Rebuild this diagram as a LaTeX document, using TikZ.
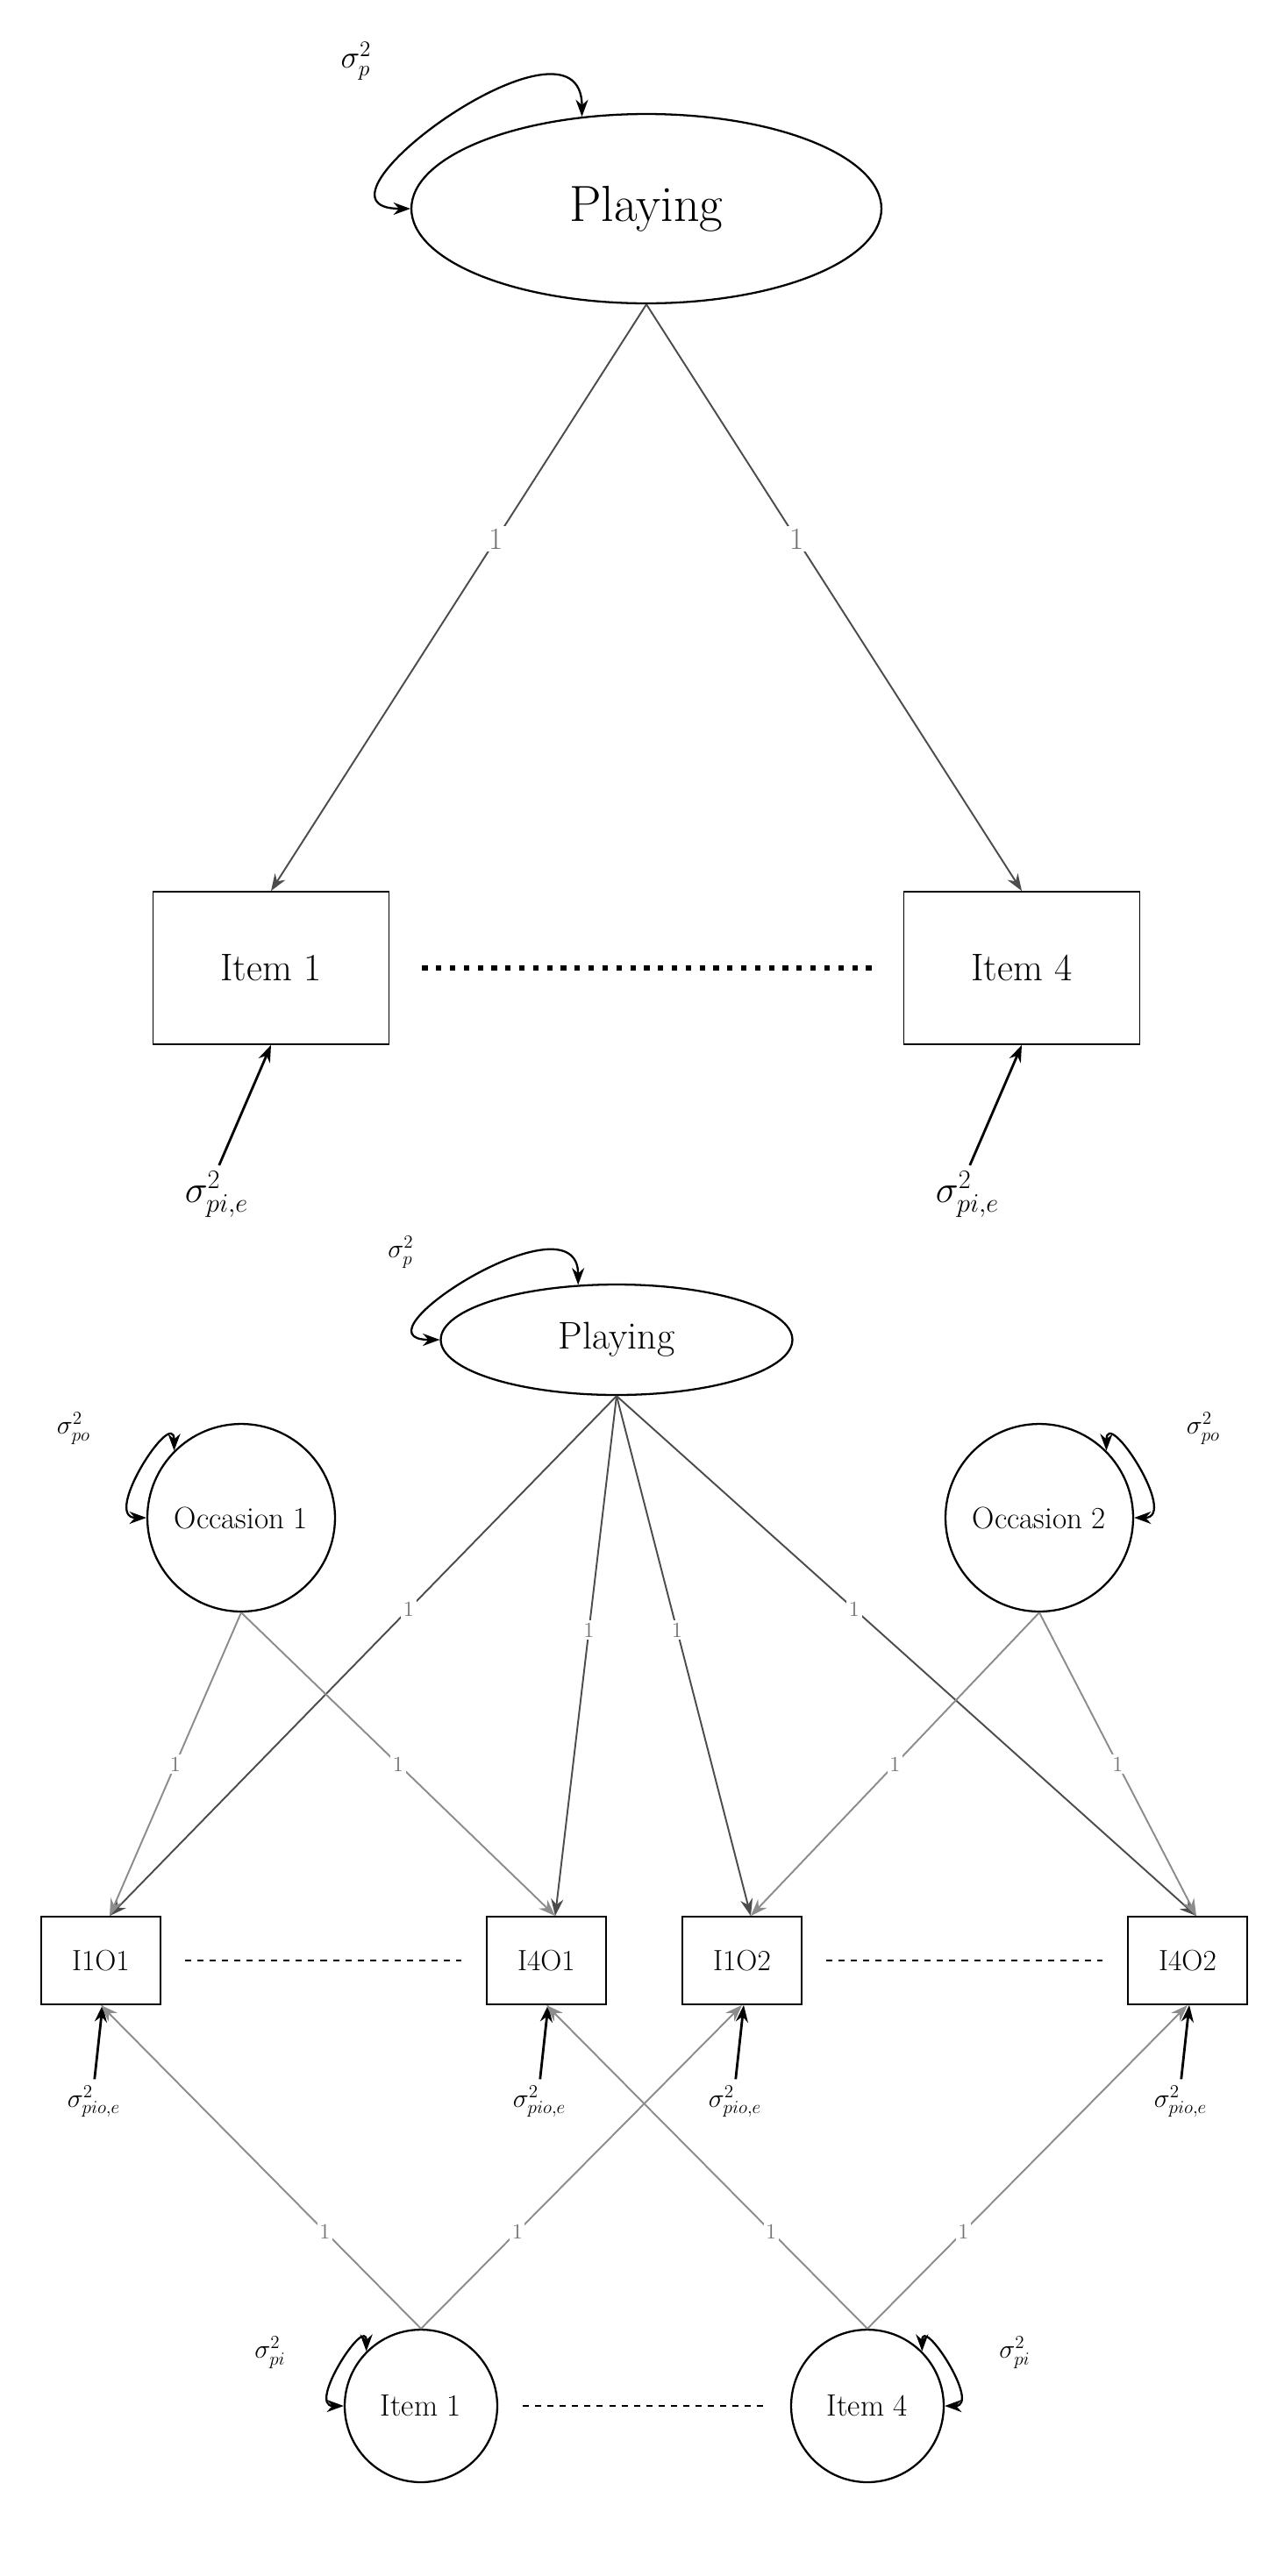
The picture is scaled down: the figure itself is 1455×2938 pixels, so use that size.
\documentclass[tikz,border=0pt]{standalone}
\usepackage{amsmath}
\usetikzlibrary{arrows.meta,shapes.geometric,calc}

\newcommand{\fs}[1]{\fontsize{#1}{#1}\selectfont}

\begin{document}
\begin{tikzpicture}[
        x=0.02cm, y=-0.02cm,
        >={Stealth[length=11pt,width=8pt]},
        latent/.style={ellipse,draw,line width=1.3pt,inner sep=0pt},
        factor/.style={circle,draw,line width=1.3pt,inner sep=0pt,font=\fs{20}},
        obs/.style={rectangle,draw,line width=1pt,inner sep=0pt},
        load/.style={->,line width=1.1pt,draw=black!70},
        lload/.style={->,line width=1.1pt,draw=black!45},
        err/.style={->,line width=1.6pt,shorten <=4pt},
        vloop/.style={<->,line width=1.3pt,looseness=1.6},
        one/.style={fill=white,inner sep=1.5pt,text=black!55,font=\fs{#1}},
        one/.default=14,
        lbl/.style={inner sep=0pt,font=\fs{#1}},
    ]
\useasboundingbox (0,0) rectangle (1455,2938);

% upper model: one facet
\node[latent,minimum width=10.72cm,minimum height=4.32cm,font=\fs{33}] (play) at (737,238) {Playing};
\node[obs,minimum width=5.38cm,minimum height=3.48cm,font=\fs{25}] (it1) at (309,1104) {Item 1};
\node[obs,minimum width=5.38cm,minimum height=3.48cm,font=\fs{25}] (it4) at (1165,1104) {Item 4};
\node[lbl=22] (sp) at (406,70) {$\sigma^2_p$};
\node[lbl=24] (e1) at (247,1362) {$\sigma^2_{pi,e}$};
\node[lbl=24] (e4) at (1103,1362) {$\sigma^2_{pi,e}$};

\draw[load] (play.south) -- node[one=20,pos=0.4] {1} (it1.north);
\draw[load] (play.south) -- node[one=20,pos=0.4] {1} (it4.north);
\draw[line width=3.5pt,dash pattern=on 3.5pt off 5.5pt] ($(it1.east)+(37,0)$) -- ($(it4.west)+(-35,0)$);
\draw[err] (e1.north) -- (it1.south);
\draw[err] (e4.north) -- (it4.south);
\draw[vloop] (play.125) to[out=90,in=180] (play.180);

% lower model: persons x items x occasions
\node[latent,minimum width=8.02cm,minimum height=2.52cm,font=\fs{25}] (pl) at (703,1528) {Playing};
\node[factor,minimum size=4.28cm] (oc1) at (275,1731) {Occasion 1};
\node[factor,minimum size=4.28cm] (oc2) at (1185,1731) {Occasion 2};
\node[obs,minimum width=2.72cm,minimum height=2cm,font=\fs{19}] (a) at (115,2236) {I1O1};
\node[obs,minimum width=2.72cm,minimum height=2cm,font=\fs{19}] (b) at (623,2236) {I4O1};
\node[obs,minimum width=2.72cm,minimum height=2cm,font=\fs{19}] (c) at (846,2236) {I1O2};
\node[obs,minimum width=2.72cm,minimum height=2cm,font=\fs{19}] (d) at (1354,2236) {I4O2};
\node[factor,minimum size=3.48cm] (q1) at (480,2744) {Item 1};
\node[factor,minimum size=3.48cm] (q4) at (989,2744) {Item 4};

\node[lbl=18] (spl) at (457,1428) {$\sigma^2_p$};
\node[lbl=18] (so1) at (84,1629) {$\sigma^2_{po}$};
\node[lbl=18] (so2) at (1372,1629) {$\sigma^2_{po}$};
\node[lbl=18] (sq1) at (308,2683) {$\sigma^2_{pi}$};
\node[lbl=18] (sq4) at (1157,2683) {$\sigma^2_{pi}$};
\foreach \n in {a,b,c,d} {
  \node[lbl=18] (e\n) at ($(\n.south)+(-8,110)$) {$\sigma^2_{pio,e}$};
  \draw[err] (e\n.north) -- ($(\n.south)+(2,0)$);
}

\foreach \n/\p in {a/0.41,b/0.45,c/0.45,d/0.41}
  \draw[load] (pl.south) -- node[one,pos=\p] {1} ($(\n.north)+(10,0)$);
\foreach \o/\n in {oc1/a,oc1/b,oc2/c,oc2/d}
  \draw[lload] (\o.south) -- node[one] {1} ($(\n.north)+(10,0)$);
\foreach \q/\n in {q1/a,q1/c,q4/b,q4/d}
  \draw[lload] (\q.north) -- node[one,pos=0.3] {1} (\n.south);

\draw[line width=1pt,dash pattern=on 4pt off 4pt] ($(a.east)+(27,0)$) -- ($(b.west)+(-28,0)$);
\draw[line width=1pt,dash pattern=on 4pt off 4pt] ($(c.east)+(27,0)$) -- ($(d.west)+(-28,0)$);
\draw[line width=1pt,dash pattern=on 4pt off 4pt] ($(q1.east)+(28,0)$) -- ($(q4.west)+(-28,0)$);

\draw[vloop] (pl.125) to[out=90,in=180] (pl.180);
\draw[vloop] (oc1.135) to[out=90,in=180] (oc1.180);
\draw[vloop] (oc2.45) to[out=90,in=0] (oc2.0);
\draw[vloop] (q1.135) to[out=90,in=180] (q1.180);
\draw[vloop] (q4.45) to[out=90,in=0] (q4.0);
\end{tikzpicture}
\end{document}
